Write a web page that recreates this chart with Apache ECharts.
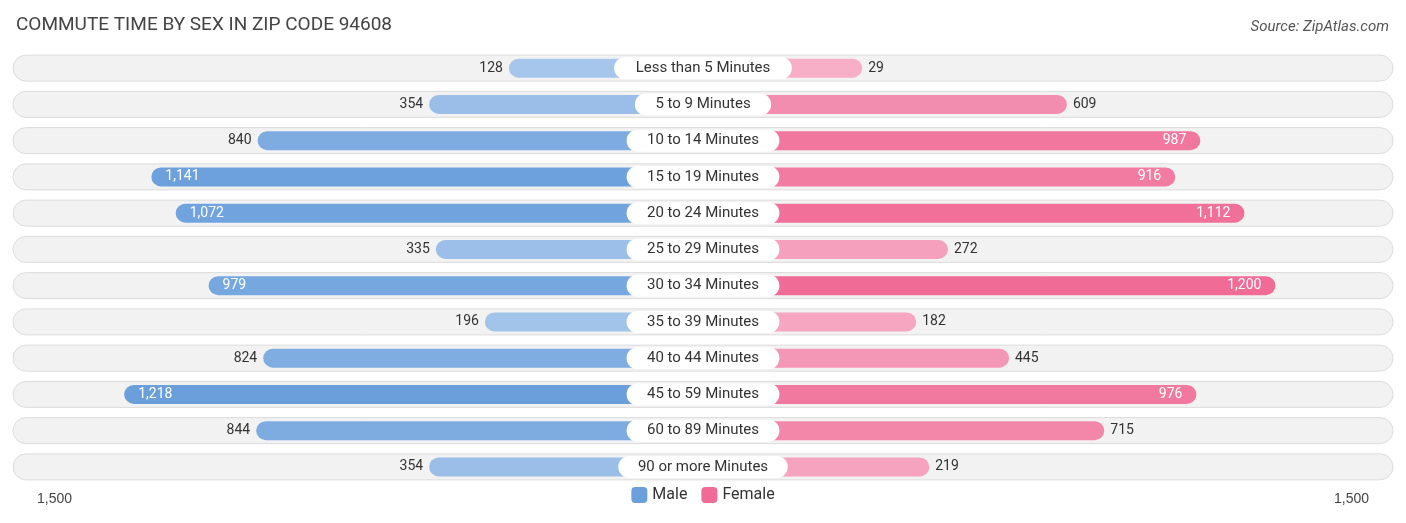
<!DOCTYPE html>
<html><head><meta charset="utf-8">
<script src="https://cdn.jsdelivr.net/npm/echarts@6/dist/echarts.min.js"></script>
<style>html,body{margin:0;padding:0;background:#fff}#c{width:1406px;height:523px}</style>
</head><body><div id="c"></div>
<script>
const categories = ['Less than 5 Minutes','5 to 9 Minutes','10 to 14 Minutes','15 to 19 Minutes','20 to 24 Minutes','25 to 29 Minutes','30 to 34 Minutes','35 to 39 Minutes','40 to 44 Minutes','45 to 59 Minutes','60 to 89 Minutes','90 or more Minutes'];
const male = [128,354,840,1141,1072,335,979,196,824,1218,844,354];
const female = [29,609,987,916,1112,272,1200,182,445,976,715,219];
const axisMax = 1955;
// bars start behind the centre label, so each bar carries this extra offset
const baseOffset = 422;

function mix(a, b, t) {
  const p = s => [1,3,5].map(i => parseInt(s.substr(i,2),16));
  const A = p(a), B = p(b);
  return 'rgb(' + A.map((v,i) => Math.round(v + (B[i]-v)*t)).join(',') + ')';
}
const fmt = v => v.toLocaleString('en-US');
function barData(vals, sign, light, dark) {
  return vals.map(v => {
    const inside = v > 900;
    return {
      value: sign * (v + baseOffset),
      itemStyle: {color: mix(light, dark, Math.min(v/1200,1))},
      label: {
        show: true, position: inside ? (sign < 0 ? 'insideLeft' : 'insideRight') : (sign < 0 ? 'left' : 'right'),
        color: inside ? '#fff' : '#333', fontSize: 14, distance: inside ? 14 : 6,
        formatter: () => fmt(v)
      }
    };
  });
}

const chart = echarts.init(document.getElementById('c'));
chart.setOption({
  textStyle: {fontFamily: 'Roboto, sans-serif'},
  title: [
    {text: 'COMMUTE TIME BY SEX IN ZIP CODE 94608', left: 11, top: 11, textStyle: {fontSize: 19, fontWeight: 'normal', color: '#444'}},
    {text: 'Source: ZipAtlas.com', right: 12, top: 15, textStyle: {fontSize: 15, fontWeight: 'normal', fontStyle: 'italic', color: '#555'}}
  ],
  legend: {bottom: 15, left: 'center', itemWidth: 16, itemHeight: 16, itemGap: 14, data: [{name:'Male', itemStyle:{color:'#6a9fdc'}}, {name:'Female', itemStyle:{color:'#f06b96'}}], textStyle: {fontSize: 16, color: '#333'}},
  graphic: [
    {type: 'text', left: 37, bottom: 17, style: {text: '1,500', fontSize: 14, fill: '#444'}},
    {type: 'text', right: 37, bottom: 17, style: {text: '1,500', fontSize: 14, fill: '#444'}}
  ],
  grid: {left: 13, right: 13, top: 50, bottom: 38},
  xAxis: {type: 'value', min: -axisMax, max: axisMax, show: false},
  yAxis: {type: 'category', data: categories, inverse: true, show: false},
  series: [
    {
      type: 'custom', silent: true, z: 1,
      data: categories.map((c, i) => i),
      renderItem: (params, api) => {
        const i = api.value(0);
        const l = api.coord([-axisMax, i]), r = api.coord([axisMax, i]);
        return {type: 'rect', shape: {x: l[0], y: l[1]-13, width: r[0]-l[0], height: 26, r: 13},
          style: {fill: '#f2f2f2', stroke: '#dcdcdc', lineWidth: 1}};
      }
    },
    {name: 'Male', type: 'bar', stack: 'a', barWidth: 19, z: 3, data: barData(male, -1, '#aecbed', '#6a9fdc'), itemStyle: {borderRadius: 10}},
    {name: 'Female', type: 'bar', stack: 'b', barWidth: 19, barGap: '-100%', z: 3, data: barData(female, 1, '#f7b0c8', '#f06b96'), itemStyle: {borderRadius: 10}},
    {
      type: 'custom', silent: true, z: 5,
      data: categories.map((c, i) => i),
      renderItem: (params, api) => {
        const i = api.value(0);
        const p = api.coord([0, i]);
        const text = categories[i];
        const tw = text.length * 8.3 + 20;
        return {type: 'group', children: [
          {type: 'rect', shape: {x: p[0]-tw/2, y: p[1]-11, width: tw, height: 22, r: 11}, style: {fill: '#fff'}},
          {type: 'text', style: {x: p[0], y: p[1], text: text, align: 'center', verticalAlign: 'middle', fontSize: 15, fill: '#333', fontFamily: 'Roboto, sans-serif'}}
        ]};
      }
    }
  ]
});
</script></body></html>
